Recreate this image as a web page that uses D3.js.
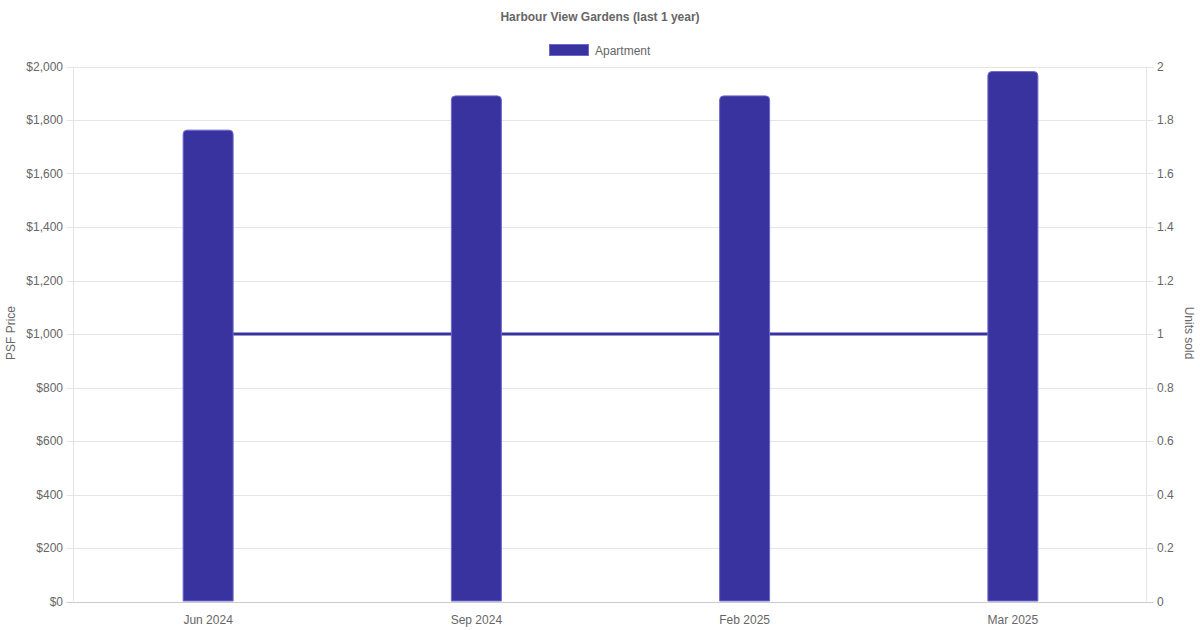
<!DOCTYPE html>
<html><head><meta charset="utf-8">
<script src="https://cdn.jsdelivr.net/npm/d3@7"></script>
<style>html,body{margin:0;padding:0;background:#fff}svg{display:block;font-family:"Liberation Sans",Arial,Helvetica,sans-serif}</style>
</head><body><svg id="c" width="1200" height="630"></svg>
<script>
const categories = ["Jun 2024", "Sep 2024", "Feb 2025", "Mar 2025"];
const psfValues = [1764, 1892, 1892, 1983];
const unitsSold = [1, 1, 1, 1];
const leftTicks = [0, 200, 400, 600, 800, 1000, 1200, 1400, 1600, 1800, 2000];
const rightTicks = [0, 0.2, 0.4, 0.6, 0.8, 1, 1.2, 1.4, 1.6, 1.8, 2];
const seriesName = "Apartment";
const title = "Harbour View Gardens (last 1 year)";

const svg = d3.select("#c");
const L = 73.5, R = 1146.5, T = 66.5, B = 601.5;
const fill = "#38339f", border = "#6f69cc", txt = "#666";

const x = d3.scaleBand().domain(categories).range([L + 0.5, R + 0.5]);
const yL = d3.scaleLinear().domain([0, 2000]).range([B, T]);
const yR = d3.scaleLinear().domain([0, 2]).range([B, T]);

// title
svg.append("text").attr("x", 600).attr("y", 21).attr("text-anchor", "middle")
  .attr("font-size", 12).attr("font-weight", "bold").attr("fill", txt).text(title);
// legend
svg.append("rect").attr("x", 549.5).attr("y", 44.5).attr("width", 39).attr("height", 11)
  .attr("fill", fill).attr("stroke", border).attr("stroke-width", 1);
svg.append("text").attr("x", 595).attr("y", 54.5).attr("font-size", 12).attr("fill", txt).text(seriesName);

// grid
const g = svg.append("g");
g.selectAll("line.grid").data(leftTicks).join("line")
  .attr("x1", L - 7).attr("x2", R + 7)
  .attr("y1", d => Math.round(yL(d)) + 0.5).attr("y2", d => Math.round(yL(d)) + 0.5)
  .attr("stroke", d => d === 0 ? "#ccc" : "#e5e5e5").attr("stroke-width", 1);
g.append("line").attr("x1", L).attr("x2", L).attr("y1", T).attr("y2", B).attr("stroke", "#e5e5e5");
g.append("line").attr("x1", R).attr("x2", R).attr("y1", T).attr("y2", B).attr("stroke", "#e5e5e5");

// left tick labels
const fmt = d => "$" + d3.format(",")(d);
svg.selectAll("text.yl").data(leftTicks).join("text")
  .attr("x", 63).attr("y", d => yL(d) + 4).attr("text-anchor", "end")
  .attr("font-size", 12).attr("fill", txt).text(fmt);
svg.selectAll("text.yr").data(rightTicks).join("text")
  .attr("x", 1157).attr("y", d => yR(d) + 4).attr("text-anchor", "start")
  .attr("font-size", 12).attr("fill", txt).text(d => d3.format("~g")(d));
svg.selectAll("text.xl").data(categories).join("text")
  .attr("x", d => x(d) + x.bandwidth() / 2).attr("y", 624).attr("text-anchor", "middle")
  .attr("font-size", 12).attr("fill", txt).text(d => d);

// axis titles
svg.append("text").attr("transform", "translate(15,333) rotate(-90)").attr("text-anchor", "middle")
  .attr("font-size", 12).attr("fill", txt).text("PSF Price");
svg.append("text").attr("transform", "translate(1185,333) rotate(90)").attr("text-anchor", "middle")
  .attr("font-size", 12).attr("fill", txt).text("Units sold");

// line (drawn behind bars)
const line = d3.line().x((d, i) => x(categories[i]) + x.bandwidth() / 2).y(d => yR(d));
svg.append("path").datum(unitsSold).attr("d", line).attr("fill", "none")
  .attr("stroke", fill).attr("stroke-width", 3);

// bars with rounded top corners
const bw = 50, r = 4;
function barPath(cx, top, bottom) {
  const x0 = cx - bw / 2, x1 = cx + bw / 2;
  return `M${x0},${bottom}L${x0},${top + r}Q${x0},${top} ${x0 + r},${top}L${x1 - r},${top}Q${x1},${top} ${x1},${top + r}L${x1},${bottom}Z`;
}
svg.selectAll("path.bar").data(psfValues).join("path")
  .attr("d", (d, i) => barPath(x(categories[i]) + x.bandwidth() / 2, yL(d) + 0.5, B - 0.5))
  .attr("fill", fill).attr("stroke", border).attr("stroke-width", 1);
</script></body></html>
